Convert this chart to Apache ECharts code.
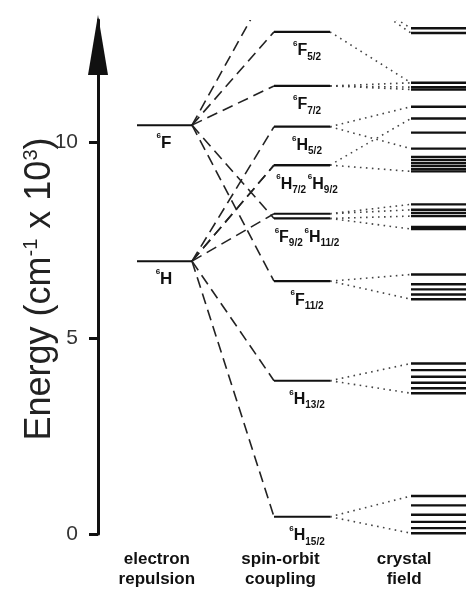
<!DOCTYPE html>
<html>
<head>
<meta charset="utf-8">
<script src="https://cdn.jsdelivr.net/npm/echarts@6/dist/echarts.min.js"></script>
<style>
  html, body { margin: 0; padding: 0; background: #fff; }
  #chart { width: 466px; height: 590px; }
</style>
</head>
<body>
<div id="chart"></div>
<script>
// ---- Dy3+ energy levels (energies in 10^3 cm^-1) ----
const columnNames = ['electron\nrepulsion', 'spin-orbit\ncoupling', 'crystal\nfield'];
const energyTicks = [0, 5, 10];

// electron-repulsion terms
const termNames = ['6F', '6H'];
const termEnergies = [10.43, 6.96];

// spin-orbit multiplets (6F3/2 lies above the plotted range)
const multipletNames    = ['6F3/2', '6F5/2', '6F7/2', '6H5/2', '6H7/2', '6H9/2', '6H11/2', '6F9/2', '6F11/2', '6H13/2', '6H15/2'];
const multipletEnergies = [14.2,    12.81,   11.43,   10.39,   9.41,    9.41,    8.17,     8.05,    6.45,     3.91,     0.44];

// multiplet captions; multiplets sharing a line share one caption
const multipletCaptions = [['6F5/2'], ['6F7/2'], ['6H5/2'], ['6H7/2', '6H9/2'], ['6F9/2', '6H11/2'], ['6F11/2'], ['6H13/2'], ['6H15/2']];

// crystal-field sublevels
const crystalEnergies = [
  12.90, 12.78,
  11.51, 11.40, 11.34,
  10.90, 10.60, 10.24, 9.83,
  9.62, 9.54, 9.46, 9.39, 9.31, 9.25,
  8.41, 8.27, 8.19, 8.11, 7.83, 7.78,
  6.62, 6.37, 6.24, 6.11, 5.99,
  4.35, 4.18, 4.01, 3.86, 3.72, 3.59,
  0.97, 0.73, 0.49, 0.31, 0.15, 0.02
];

// fans from a multiplet to the sublevels it splits into
const fanLinks = [
  ['6F3/2', 12.90], ['6F3/2', 12.78],
  ['6F5/2', 11.51],
  ['6F7/2', 11.51], ['6F7/2', 11.40], ['6F7/2', 11.34],
  ['6H5/2', 10.90], ['6H5/2', 9.83],
  ['6H7/2', 10.60], ['6H9/2', 9.25],
  ['6H11/2', 8.41], ['6H11/2', 8.27],
  ['6F9/2', 8.11], ['6F9/2', 7.78],
  ['6F11/2', 6.62], ['6F11/2', 5.99],
  ['6H13/2', 4.35], ['6H13/2', 3.59],
  ['6H15/2', 0.97], ['6H15/2', 0.02]
];

// ---- layout: horizontal spans of the three columns on the x scale ----
const SPAN = { term: [137, 192], mult: [274, 330], cryst: [411, 470] };
const FONT = '"Liberation Sans", Arial, Helvetica, sans-serif';
const INK = '#111';

const energyOf = name => multipletEnergies[multipletNames.indexOf(name)];
const termOf = name => termEnergies[termNames.indexOf(name.slice(0, 2))];

function richName(name) {
  const m = name.match(/^(\d)([A-Z])(.*)$/);
  return '{sup|' + m[1] + '}{main|' + m[2] + '}' + (m[3] ? '{sub|' + m[3] + '}' : '');
}

function levelSeries(energies, span, width) {
  return {
    type: 'custom',
    xAxisIndex: 0, yAxisIndex: 0,
    silent: true,
    data: energies.map(e => [e]),
    renderItem(params, api) {
      const a = api.coord([span[0], api.value(0)]);
      const b = api.coord([span[1], api.value(0)]);
      return { type: 'line', shape: { x1: a[0], y1: a[1], x2: b[0], y2: b[1] },
               style: { stroke: INK, lineWidth: width } };
    }
  };
}

function linkSeries(pairs, fromX, toX, dash, width, color) {
  return {
    type: 'custom',
    xAxisIndex: 0, yAxisIndex: 0,
    silent: true,
    clip: true,
    data: pairs,
    renderItem(params, api) {
      const a = api.coord([fromX, api.value(0)]);
      const b = api.coord([toX, api.value(1)]);
      return { type: 'line', shape: { x1: a[0], y1: a[1], x2: b[0], y2: b[1] },
               style: { stroke: color, lineWidth: width, lineDash: dash } };
    }
  };
}

function captionSeries(texts, energies, centerX, dy, big) {
  return {
    type: 'custom',
    xAxisIndex: 0, yAxisIndex: 0,
    silent: true,
    data: energies.map((e, i) => [e, i]),
    renderItem(params, api) {
      const p = api.coord([centerX, api.value(0)]);
      return {
        type: 'text',
        x: p[0], y: p[1] + dy,
        style: {
          text: texts[api.value(1)],
          align: 'center', verticalAlign: 'middle',
          fill: INK,
          rich: {
            main: { fontFamily: FONT, fontWeight: 'bold', fontSize: big ? 17 : 16, lineHeight: 22, verticalAlign: 'middle' },
            sup:  { fontFamily: FONT, fontWeight: 'bold', fontSize: 8, lineHeight: 9, verticalAlign: 'top' },
            sub:  { fontFamily: FONT, fontWeight: 'bold', fontSize: 10, lineHeight: 11, verticalAlign: 'bottom' },
            gap:  { fontSize: 6 }
          }
        }
      };
    }
  };
}

// dashed term -> multiplet correlations
const splitPairs = multipletNames.map(n => [termOf(n), energyOf(n)]);
// dotted multiplet -> sublevel fans
const fanPairs = fanLinks.map(([n, e]) => [energyOf(n), e]);

const multCaptionTexts = multipletCaptions.map(g => g.map(richName).join('{gap| }'));
const multCaptionEnergies = multipletCaptions.map(g => Math.min(...g.map(energyOf)));

const chart = echarts.init(document.getElementById('chart'), null, { renderer: 'canvas' });
chart.setOption({
  backgroundColor: '#fff',
  animation: false,
  grid: [
    { left: 98, right: 0, top: 20, bottom: 56 },
    { left: 95, right: -43, top: 538, height: 1 }
  ],
  xAxis: [
    { gridIndex: 0, type: 'value', min: 98, max: 466, show: false },
    {
      gridIndex: 1, type: 'category', data: columnNames,
      axisLine: { show: false }, axisTick: { show: false },
      axisLabel: { margin: 10, color: INK, fontFamily: FONT, fontWeight: 'bold', fontSize: 17, lineHeight: 20, interval: 0 }
    }
  ],
  yAxis: [
    {
      gridIndex: 0, type: 'value', min: 0, max: 514 / 39.2,
      name: '{t|Energy (cm}{s|-1}{t| x 10}{s|3}{t|)}',
      nameLocation: 'middle', nameRotate: 90, nameGap: 39,
      nameMoveOverlap: false,
      nameTextStyle: {
        padding: [0, 24, 0, 0],
        rich: {
          t: { fontFamily: FONT, fontSize: 36, color: '#222', lineHeight: 38, verticalAlign: 'middle' },
          s: { fontFamily: FONT, fontSize: 20, color: '#222', lineHeight: 20, verticalAlign: 'top' }
        }
      },
      axisLine: {
        show: true, onZero: false,
        lineStyle: { color: INK, width: 3 },
        symbol: ['none', 'triangle'], symbolSize: [20, 60], symbolOffset: [0, -25]
      },
      axisTick: { show: true, length: 9, lineStyle: { color: INK, width: 3 }, customValues: energyTicks },
      axisLabel: { margin: 20, color: '#333', fontFamily: FONT, fontSize: 21, customValues: energyTicks },
      splitLine: { show: false }
    },
    { gridIndex: 1, type: 'value', show: false }
  ],
  series: [
    linkSeries(splitPairs, SPAN.term[1], SPAN.mult[0], [11, 6], 1.6, '#222'),
    linkSeries(fanPairs, SPAN.mult[1], SPAN.cryst[0], [1.6, 4.4], 1.6, '#444'),
    levelSeries(termEnergies, SPAN.term, 2),
    levelSeries(multipletEnergies, SPAN.mult, 2.2),
    levelSeries(crystalEnergies, SPAN.cryst, 2.4),
    captionSeries(termNames.map(richName), termEnergies, 164, 18, true),
    captionSeries(multCaptionTexts, multCaptionEnergies, 307, 19, false)
  ]
});
</script>
</body>
</html>
